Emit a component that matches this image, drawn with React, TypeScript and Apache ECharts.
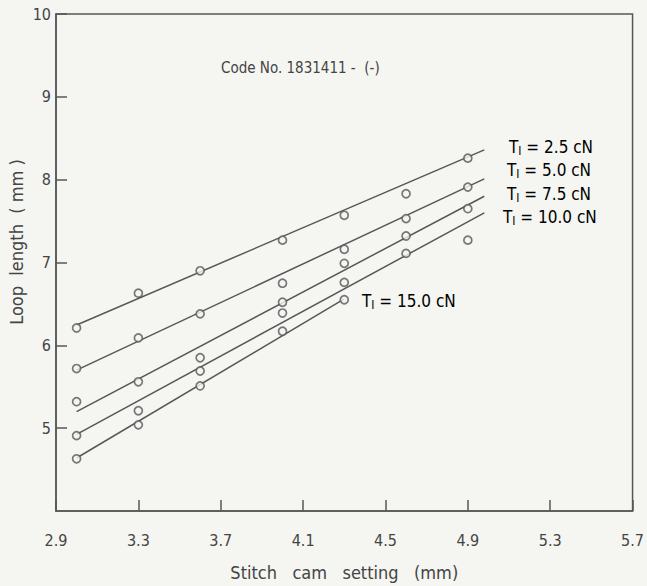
import React, { useEffect, useRef } from "react";
import * as echarts from "echarts";

// Measured stitch cam settings (mm)
const camSettings = [3.0, 3.3, 3.6, 4.0, 4.3, 4.6, 4.9];
// Loop length (mm) for each input tension
const loopT25 = [6.21, 6.63, 6.9, 7.27, 7.57, 7.83, 8.26];
const loopT50 = [5.72, 6.09, 6.38, 6.75, 7.16, 7.53, 7.91];
const loopT75 = [5.32, 5.56, 5.85, 6.52, 6.99, 7.32, 7.65];
const loopT100 = [4.91, 5.21, 5.69, 6.39, 6.76, 7.11, 7.27];
const loopT150 = [4.63, 5.04, 5.51, 6.17, 6.55];

// Fitted straight lines (start / end)
const fitX = [3.0, 4.98];
const fitT25 = [6.245, 8.36];
const fitT50 = [5.7, 8.01];
const fitT75 = [5.2, 7.8];
const fitT100 = [4.925, 7.6];
const fitX150 = [3.0, 4.3];
const fitT150 = [4.64, 6.56];

const xTicks = [2.9, 3.3, 3.7, 4.1, 4.5, 4.9, 5.3, 5.7];
const yTicks = [5, 6, 7, 8, 9, 10];

const tensionLabels = ["2.5", "5.0", "7.5", "10.0", "15.0"];

const FONT = "'DejaVu Sans Condensed', 'Liberation Sans Narrow', 'Roboto', sans-serif";
const INK = "#444444";
const LINE = "#575757";
const BG = "#f5f5f2";
const SP = "\u00a0";

const pairs = (xs: number[], ys: number[]) => ys.map((y, i) => [xs[i], y]);

export default function App() {
  const ref = useRef<HTMLDivElement>(null);
  useEffect(() => {
    if (!ref.current) return;
    const chart = echarts.init(ref.current, null, { renderer: "svg" });

    const scatter = (data: number[][]) => ({
      type: "scatter",
      data,
      symbol: "circle",
      symbolSize: 8,
      itemStyle: { color: BG, borderColor: LINE, borderWidth: 1.7 },
      z: 5,
    });
    const fit = (xs: number[], ys: number[]) => ({
      type: "line",
      data: pairs(xs, ys),
      showSymbol: false,
      symbol: "none",
      lineStyle: { color: LINE, width: 1.5 },
      z: 3,
    });

    const rich = {
      t: { fontFamily: FONT, fontSize: 17, color: INK },
      s: { fontFamily: FONT, fontSize: 12, color: INK, padding: [9, 0, 0, 0] },
    };
    const tLabel = (txt: string, left: number, top: number) => ({
      type: "text",
      left,
      top,
      style: {
        text: `{t|T}{s|I}{t| = ${txt} cN}`,
        rich,
      },
    });

    chart.setOption({
      animation: false,
      backgroundColor: BG,
      textStyle: { fontFamily: FONT, color: INK },
      grid: { left: 56, right: 11, top: 14, bottom: 67, show: true, borderColor: LINE, borderWidth: 1.5 },
      xAxis: {
        type: "value",
        min: 2.9,
        max: 5.7,
        name: `Stitch${SP}${SP}${SP}cam${SP}${SP}${SP}setting${SP}${SP}${SP}(mm)`,
        nameLocation: "middle",
        nameGap: 52,
        nameTextStyle: { fontFamily: FONT, fontSize: 18, color: INK },
        axisLine: { lineStyle: { color: LINE, width: 1.5 } },
        axisTick: { inside: true, length: 11, customValues: xTicks, lineStyle: { color: LINE, width: 1.5 } },
        axisLabel: { customValues: xTicks, margin: 21, fontSize: 16, color: INK, fontFamily: FONT, formatter: (v: number) => v.toFixed(1) },
        splitLine: { show: false },
      },
      yAxis: {
        type: "value",
        min: 4,
        max: 10,
        axisLine: { lineStyle: { color: LINE, width: 1.5 } },
        axisTick: { inside: true, length: 11, customValues: yTicks, lineStyle: { color: LINE, width: 1.5 } },
        axisLabel: { customValues: yTicks, margin: 5, fontSize: 16, color: INK, fontFamily: FONT },
        splitLine: { show: false },
      },
      graphic: [
        {
          type: "text",
          x: 16,
          y: 242,
          rotation: Math.PI / 2,
          style: {
            text: `Loop${SP}${SP}length${SP}${SP}(${SP}mm${SP})`,
            fontFamily: FONT,
            fontSize: 18,
            fill: INK,
            align: "center",
            verticalAlign: "middle",
          },
        },
        {
          type: "text",
          left: 221,
          top: 60,
          style: { text: `Code No. 1831411 -${SP}${SP}(-)`, fontFamily: FONT, fontSize: 15, fill: INK },
        },
        tLabel(tensionLabels[0], 509, 138),
        tLabel(tensionLabels[1], 507, 161),
        tLabel(tensionLabels[2], 507, 185),
        tLabel(tensionLabels[3], 503, 208),
        tLabel(tensionLabels[4], 362, 292),
      ],
      series: [
        fit(fitX, fitT25),
        fit(fitX, fitT50),
        fit(fitX, fitT75),
        fit(fitX, fitT100),
        fit(fitX150, fitT150),
        scatter(pairs(camSettings, loopT25)),
        scatter(pairs(camSettings, loopT50)),
        scatter(pairs(camSettings, loopT75)),
        scatter(pairs(camSettings, loopT100)),
        scatter(pairs(camSettings, loopT150)),
      ],
    });
    return () => chart.dispose();
  }, []);
  return <div ref={ref} style={{ position: "fixed", left: 0, top: 0, width: 647, height: 586 }} />;
}
